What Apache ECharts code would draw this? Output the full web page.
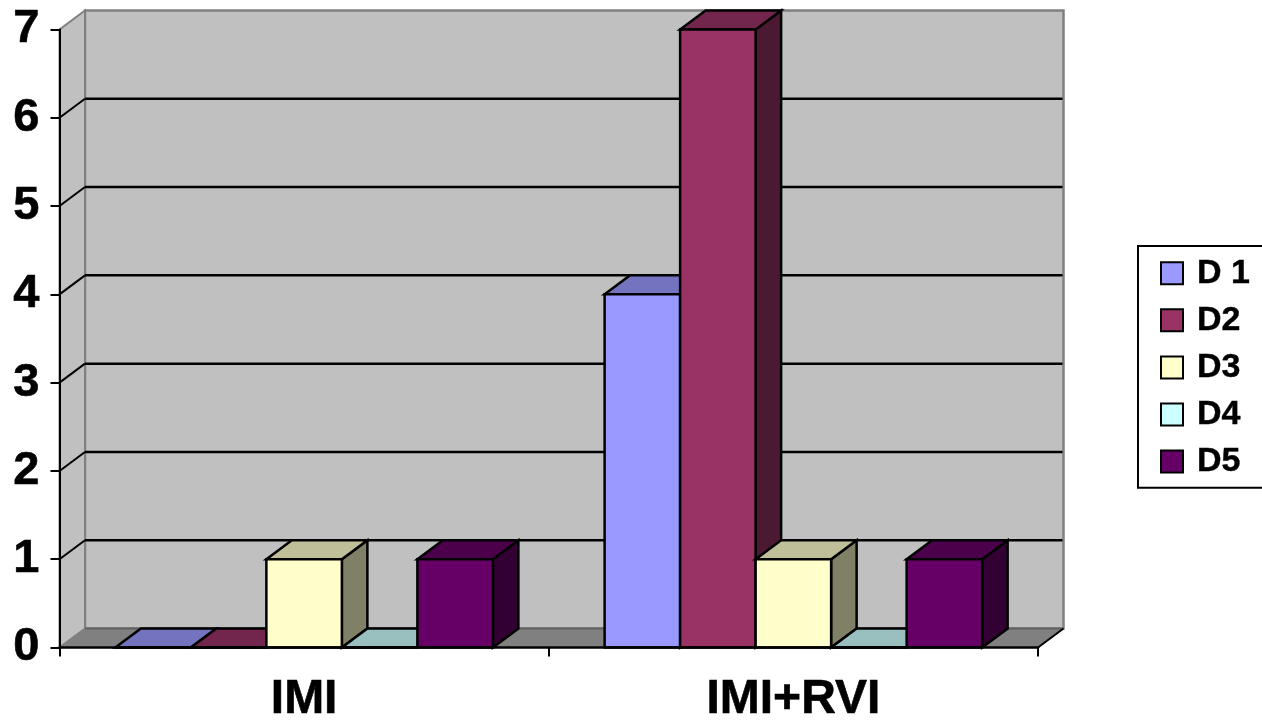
<!DOCTYPE html>
<html>
<head>
<meta charset="utf-8">
<style>html,body{margin:0;padding:0;background:#fff}#c{width:1262px;height:720px}</style>
<script src="https://cdn.jsdelivr.net/npm/echarts@6/dist/echarts.min.js"></script>
</head>
<body>
<div id="c"></div>
<script>
const categories = ['IMI', 'IMI+RVI'];
const yTicks = [0, 1, 2, 3, 4, 5, 6, 7];
const seriesNames = ['D 1', 'D2', 'D3', 'D4', 'D5'];
const d1 = [0, 4];
const d2 = [0, 7];
const d3 = [1, 1];
const d4 = [0, 0];
const d5 = [1, 1];
const seriesValues = [d1, d2, d3, d4, d5];
const frontColors = ['#9999FF', '#993366', '#FFFFCC', '#CCFFFF', '#660066'];
const topColors = ['#7373BF', '#73264D', '#BFBF99', '#99BFBF', '#4C004C'];
const sideColors = ['#4C4C80', '#4C1933', '#808066', '#668080', '#330033'];

const DX = 25.5, DY = -19, GAP = 1.48;
const FONT = '"Liberation Sans", Arial, sans-serif';
const LW = 2.5;

function poly(pts, fill, stroke, w) {
  return {
    type: 'polygon',
    shape: { points: pts },
    style: { fill: fill, stroke: stroke || null, lineWidth: w || 0, lineJoin: 'miter' }
  };
}
function seg(x1, y1, x2, y2, color, w) {
  return {
    type: 'line',
    shape: { x1: x1, y1: y1, x2: x2, y2: y2 },
    style: { stroke: color, lineWidth: w, fill: null }
  };
}

function renderWalls(params, api) {
  const v = api.value(0);
  const cs = params.coordSys;
  const l = cs.x, r = cs.x + cs.width;
  const y = api.coord([0, v])[1];
  const kids = [];
  if (v === 0) {
    const top = api.coord([0, yTicks[yTicks.length - 1]])[1];
    kids.push(poly([[l + DX, top + DY], [r + DX, top + DY], [r + DX, y + DY], [l + DX, y + DY]], '#C0C0C0', '#808080', 2.5));
    kids.push(poly([[l, top], [l + DX, top + DY], [l + DX, y + DY], [l, y]], '#C0C0C0', '#808080', 2));
    kids.push(poly([[l, y], [l + DX, y + DY], [r + DX, y + DY], [r, y]], '#808080', '#808080', 1));
    kids.push(seg(l + DX, y + DY, r + DX, y + DY, '#606060', 2));
    kids.push(seg(r, y, r + DX, y + DY, '#000', 2));
  } else if (v < yTicks[yTicks.length - 1]) {
    kids.push(seg(l, y, l + DX, y + DY, '#000', 2));
    kids.push(seg(l + DX, y + DY, r + DX - 1, y + DY, '#000', LW));
  }
  return { type: 'group', children: kids };
}

function makeBarRenderer(idx) {
  return function (params, api) {
    const p = api.coord([api.value(0), api.value(1)]);
    const base = api.coord([api.value(0), 0]);
    const catW = api.size([1, 0])[0];
    const bw = catW / (seriesNames.length + GAP);
    const x0 = p[0] - bw * seriesNames.length / 2 + idx * bw;
    const x1 = x0 + bw;
    const yt = p[1], yb = base[1];
    return {
      type: 'group',
      children: [
        poly([[x1, yt], [x1 + DX, yt + DY], [x1 + DX, yb + DY], [x1, yb]], sideColors[idx], '#000', LW),
        poly([[x0, yt], [x0 + DX, yt + DY], [x1 + DX, yt + DY], [x1, yt]], topColors[idx], '#000', LW),
        poly([[x0, yt], [x1, yt], [x1, yb], [x0, yb]], frontColors[idx], '#000', LW)
      ]
    };
  };
}

const series = [{
  type: 'custom',
  name: 'walls',
  silent: true,
  z: 1,
  coordinateSystem: 'cartesian2d',
  data: yTicks.map(v => [v]),
  encode: { y: 0 },
  renderItem: renderWalls
}].concat(seriesNames.map((n, i) => ({
  type: 'custom',
  name: n,
  silent: true,
  z: 2,
  coordinateSystem: 'cartesian2d',
  itemStyle: { color: frontColors[i] },
  data: seriesValues[i].map((v, c) => [c, v]),
  encode: { x: 0, y: 1 },
  renderItem: makeBarRenderer(i)
})));

const chart = echarts.init(document.getElementById('c'), null, { renderer: 'canvas' });
chart.setOption({
  animation: false,
  backgroundColor: '#fff',
  grid: { left: 59.5, right: 224, top: 29.5, bottom: 72.5, containLabel: false, outerBoundsMode: 'none' },
  xAxis: {
    type: 'category',
    data: categories,
    z: 5,
    axisLine: { show: true, lineStyle: { color: '#000', width: 2.5 } },
    axisTick: { show: true, length: 9, lineStyle: { color: '#000', width: 2 } },
    axisLabel: { interval: 0, margin: 28, color: '#000', fontFamily: FONT, fontWeight: 'bold', fontSize: 48, textBorderColor: '#000', textBorderWidth: 0.6 },
    splitLine: { show: false }
  },
  yAxis: {
    type: 'value',
    min: 0,
    max: 7,
    interval: 1,
    z: 5,
    axisLine: { show: true, lineStyle: { color: '#000', width: 2 } },
    axisTick: { show: true, length: 9, lineStyle: { color: '#000', width: 2 } },
    axisLabel: { margin: 20, color: '#000', fontFamily: FONT, fontWeight: 'bold', fontSize: 47, padding: [3, 0, 0, 0], textBorderColor: '#000', textBorderWidth: 0.6, hideOverlap: false, showMinLabel: true, showMaxLabel: true },
    splitLine: { show: false }
  },
  legend: {
    orient: 'vertical',
    left: 1138,
    top: 246,
    padding: [10, 20, 9, 22],
    itemWidth: 22,
    itemHeight: 22,
    itemGap: 12.7,
    borderColor: '#000',
    borderWidth: 2,
    selectedMode: false,
    icon: 'rect',
    itemStyle: { borderColor: '#000', borderWidth: 2 },
    textStyle: { color: '#000', fontFamily: FONT, fontWeight: 'bold', fontSize: 34, lineHeight: 22, padding: [0, 0, 0, 9], textBorderColor: '#000', textBorderWidth: 0.4 },
    data: seriesNames
  },
  series: series
});
</script>
</body>
</html>
